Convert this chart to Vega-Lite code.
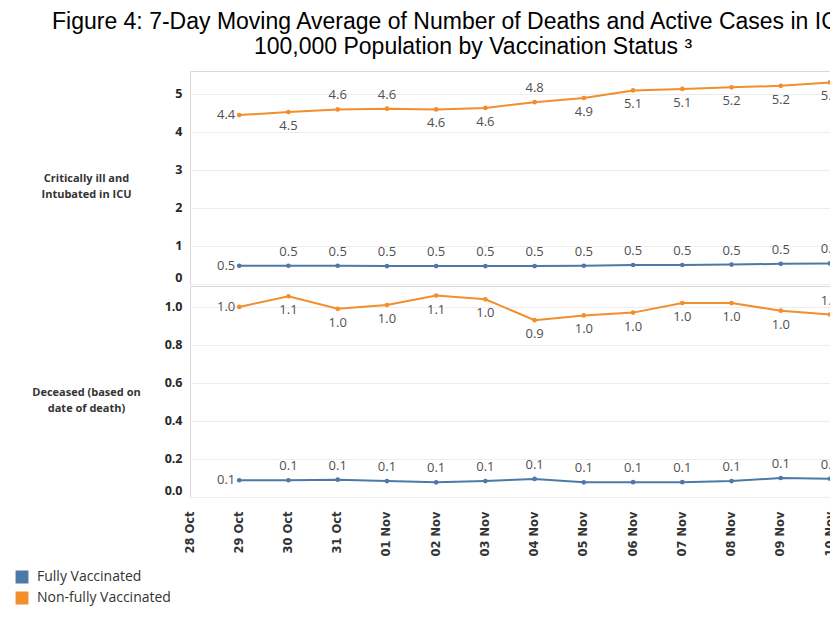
{
  "$schema": "https://vega.github.io/schema/vega-lite/v6.json",
  "background": "white",
  "padding": {"left": 15, "top": 10, "right": 0, "bottom": 0},
  "title": {
    "text": ["Figure 4: 7-Day Moving Average of Number of Deaths and Active Cases in ICU per", "100,000 Population by Vaccination Status ³"],
    "anchor": "start",
    "frame": "bounds",
    "align": "center",
    "dx": 458,
    "font": "Liberation Sans",
    "fontSize": 23,
    "fontWeight": "normal",
    "color": "#000000",
    "lineHeight": 25,
    "offset": 12
  },
  "data": {
    "values": [
      {"date": "29 Oct", "status": "Non-fully Vaccinated", "measure": "icu", "value": 4.44},
      {"date": "30 Oct", "status": "Non-fully Vaccinated", "measure": "icu", "value": 4.52},
      {"date": "31 Oct", "status": "Non-fully Vaccinated", "measure": "icu", "value": 4.59},
      {"date": "01 Nov", "status": "Non-fully Vaccinated", "measure": "icu", "value": 4.61},
      {"date": "02 Nov", "status": "Non-fully Vaccinated", "measure": "icu", "value": 4.59},
      {"date": "03 Nov", "status": "Non-fully Vaccinated", "measure": "icu", "value": 4.63},
      {"date": "04 Nov", "status": "Non-fully Vaccinated", "measure": "icu", "value": 4.78},
      {"date": "05 Nov", "status": "Non-fully Vaccinated", "measure": "icu", "value": 4.89},
      {"date": "06 Nov", "status": "Non-fully Vaccinated", "measure": "icu", "value": 5.09},
      {"date": "07 Nov", "status": "Non-fully Vaccinated", "measure": "icu", "value": 5.13},
      {"date": "08 Nov", "status": "Non-fully Vaccinated", "measure": "icu", "value": 5.17},
      {"date": "09 Nov", "status": "Non-fully Vaccinated", "measure": "icu", "value": 5.21},
      {"date": "10 Nov", "status": "Non-fully Vaccinated", "measure": "icu", "value": 5.30},
      {"date": "29 Oct", "status": "Fully Vaccinated", "measure": "icu", "value": 0.48},
      {"date": "30 Oct", "status": "Fully Vaccinated", "measure": "icu", "value": 0.48},
      {"date": "31 Oct", "status": "Fully Vaccinated", "measure": "icu", "value": 0.48},
      {"date": "01 Nov", "status": "Fully Vaccinated", "measure": "icu", "value": 0.47},
      {"date": "02 Nov", "status": "Fully Vaccinated", "measure": "icu", "value": 0.47},
      {"date": "03 Nov", "status": "Fully Vaccinated", "measure": "icu", "value": 0.47},
      {"date": "04 Nov", "status": "Fully Vaccinated", "measure": "icu", "value": 0.47},
      {"date": "05 Nov", "status": "Fully Vaccinated", "measure": "icu", "value": 0.48},
      {"date": "06 Nov", "status": "Fully Vaccinated", "measure": "icu", "value": 0.50},
      {"date": "07 Nov", "status": "Fully Vaccinated", "measure": "icu", "value": 0.50},
      {"date": "08 Nov", "status": "Fully Vaccinated", "measure": "icu", "value": 0.51},
      {"date": "09 Nov", "status": "Fully Vaccinated", "measure": "icu", "value": 0.53},
      {"date": "10 Nov", "status": "Fully Vaccinated", "measure": "icu", "value": 0.54},
      {"date": "29 Oct", "status": "Non-fully Vaccinated", "measure": "deceased", "value": 1.00},
      {"date": "30 Oct", "status": "Non-fully Vaccinated", "measure": "deceased", "value": 1.056},
      {"date": "31 Oct", "status": "Non-fully Vaccinated", "measure": "deceased", "value": 0.99},
      {"date": "01 Nov", "status": "Non-fully Vaccinated", "measure": "deceased", "value": 1.01},
      {"date": "02 Nov", "status": "Non-fully Vaccinated", "measure": "deceased", "value": 1.06},
      {"date": "03 Nov", "status": "Non-fully Vaccinated", "measure": "deceased", "value": 1.04},
      {"date": "04 Nov", "status": "Non-fully Vaccinated", "measure": "deceased", "value": 0.93},
      {"date": "05 Nov", "status": "Non-fully Vaccinated", "measure": "deceased", "value": 0.955},
      {"date": "06 Nov", "status": "Non-fully Vaccinated", "measure": "deceased", "value": 0.97},
      {"date": "07 Nov", "status": "Non-fully Vaccinated", "measure": "deceased", "value": 1.02},
      {"date": "08 Nov", "status": "Non-fully Vaccinated", "measure": "deceased", "value": 1.02},
      {"date": "09 Nov", "status": "Non-fully Vaccinated", "measure": "deceased", "value": 0.98},
      {"date": "10 Nov", "status": "Non-fully Vaccinated", "measure": "deceased", "value": 0.96},
      {"date": "29 Oct", "status": "Fully Vaccinated", "measure": "deceased", "value": 0.088},
      {"date": "30 Oct", "status": "Fully Vaccinated", "measure": "deceased", "value": 0.088},
      {"date": "31 Oct", "status": "Fully Vaccinated", "measure": "deceased", "value": 0.091},
      {"date": "01 Nov", "status": "Fully Vaccinated", "measure": "deceased", "value": 0.084},
      {"date": "02 Nov", "status": "Fully Vaccinated", "measure": "deceased", "value": 0.077},
      {"date": "03 Nov", "status": "Fully Vaccinated", "measure": "deceased", "value": 0.084},
      {"date": "04 Nov", "status": "Fully Vaccinated", "measure": "deceased", "value": 0.095},
      {"date": "05 Nov", "status": "Fully Vaccinated", "measure": "deceased", "value": 0.077},
      {"date": "06 Nov", "status": "Fully Vaccinated", "measure": "deceased", "value": 0.078},
      {"date": "07 Nov", "status": "Fully Vaccinated", "measure": "deceased", "value": 0.078},
      {"date": "08 Nov", "status": "Fully Vaccinated", "measure": "deceased", "value": 0.084},
      {"date": "09 Nov", "status": "Fully Vaccinated", "measure": "deceased", "value": 0.100},
      {"date": "10 Nov", "status": "Fully Vaccinated", "measure": "deceased", "value": 0.096}
    ]
  },
  "spacing": 0,
  "resolve": {"scale": {"y": "independent", "color": "shared"}},
  "vconcat": [
    {
      "width": 700,
      "height": 213,
      "transform": [{"filter": "datum.measure == 'icu'"}],
      "encoding": {
        "x": {
          "field": "date", "type": "ordinal",
          "scale": {"type": "point", "domain": ["28 Oct","29 Oct","30 Oct","31 Oct","01 Nov","02 Nov","03 Nov","04 Nov","05 Nov","06 Nov","07 Nov","08 Nov","09 Nov","10 Nov"], "range": [0, 640], "padding": 0},
          "axis": null
        },
        "y": {
          "field": "value", "type": "quantitative",
          "scale": {"domain": [0, 5.6], "nice": false},
          "axis": {"values": [0, 1, 2, 3, 4, 5], "title": ["Critically ill and", "Intubated in ICU"], "titleX": -104, "titleY": 107}
        },
        "color": {
          "field": "status", "type": "nominal",
          "scale": {"domain": ["Fully Vaccinated", "Non-fully Vaccinated"], "range": ["#4e79a7", "#f28e2b"]},
          "legend": {"title": null, "encode": {"symbols": {"update": {"fill": {"scale": "color", "field": "value"}, "stroke": {"value": "transparent"}, "shape": {"value": "square"}, "size": {"value": 130}, "opacity": {"value": 1}}}}}
        }
      },
      "layer": [
        {"mark": {"type": "line", "strokeWidth": 2, "point": {"filled": true, "size": 22}}},
        {
          "transform": [{"filter": "datum.date == '29 Oct'"}],
          "mark": {"type": "text", "align": "right", "baseline": "middle", "dx": -4, "font": "Open Sans", "fontSize": 13},
          "encoding": {"text": {"field": "value", "type": "quantitative", "format": ".1f"}, "color": {"value": "#505050"}}
        },
        {
          "transform": [{"filter": "datum.date != '29 Oct' && (datum.status == 'Fully Vaccinated' || indexof(['31 Oct','01 Nov','04 Nov'], datum.date) >= 0)"}],
          "mark": {"type": "text", "align": "center", "baseline": "middle", "dy": -14, "font": "Open Sans", "fontSize": 13},
          "encoding": {"text": {"field": "value", "type": "quantitative", "format": ".1f"}, "color": {"value": "#505050"}}
        },
        {
          "transform": [{"filter": "datum.date != '29 Oct' && datum.status != 'Fully Vaccinated' && indexof(['31 Oct','01 Nov','04 Nov'], datum.date) < 0"}],
          "mark": {"type": "text", "align": "center", "baseline": "middle", "dy": 14, "font": "Open Sans", "fontSize": 13},
          "encoding": {"text": {"field": "value", "type": "quantitative", "format": ".1f"}, "color": {"value": "#505050"}}
        }
      ]
    },
    {
      "width": 700,
      "height": 211,
      "transform": [{"filter": "datum.measure == 'deceased'"}],
      "encoding": {
        "x": {
          "field": "date", "type": "ordinal",
          "scale": {"type": "point", "domain": ["28 Oct","29 Oct","30 Oct","31 Oct","01 Nov","02 Nov","03 Nov","04 Nov","05 Nov","06 Nov","07 Nov","08 Nov","09 Nov","10 Nov"], "range": [0, 640], "padding": 0},
          "axis": {"title": null, "labelAngle": 270, "ticks": false, "tickSize": 0, "domain": false, "grid": false, "labelPadding": 14, "labelFont": "DejaVu Sans", "labelFontWeight": "bold", "labelFontSize": 11.5, "labelColor": "#333333"}
        },
        "y": {
          "field": "value", "type": "quantitative",
          "scale": {"domain": [0, 1.11], "nice": false},
          "axis": {"values": [0, 0.2, 0.4, 0.6, 0.8, 1.0], "format": ".1f", "title": ["Deceased (based on", "date of death)"], "titleX": -104, "titleY": 106}
        },
        "color": {
          "field": "status", "type": "nominal",
          "scale": {"domain": ["Fully Vaccinated", "Non-fully Vaccinated"], "range": ["#4e79a7", "#f28e2b"]},
          "legend": {"title": null, "encode": {"symbols": {"update": {"fill": {"scale": "color", "field": "value"}, "stroke": {"value": "transparent"}, "shape": {"value": "square"}, "size": {"value": 130}, "opacity": {"value": 1}}}}}
        }
      },
      "layer": [
        {"mark": {"type": "line", "strokeWidth": 2, "point": {"filled": true, "size": 22}}},
        {
          "transform": [{"filter": "datum.date == '29 Oct'"}],
          "mark": {"type": "text", "align": "right", "baseline": "middle", "dx": -4, "font": "Open Sans", "fontSize": 13},
          "encoding": {"text": {"field": "value", "type": "quantitative", "format": ".1f"}, "color": {"value": "#505050"}}
        },
        {
          "transform": [{"filter": "datum.date != '29 Oct' && (datum.status == 'Fully Vaccinated' || datum.date == '10 Nov')"}],
          "mark": {"type": "text", "align": "center", "baseline": "middle", "dy": -14, "font": "Open Sans", "fontSize": 13},
          "encoding": {"text": {"field": "value", "type": "quantitative", "format": ".1f"}, "color": {"value": "#505050"}}
        },
        {
          "transform": [{"filter": "datum.date != '29 Oct' && datum.status != 'Fully Vaccinated' && datum.date != '10 Nov'"}],
          "mark": {"type": "text", "align": "center", "baseline": "middle", "dy": 14, "font": "Open Sans", "fontSize": 13},
          "encoding": {"text": {"field": "value", "type": "quantitative", "format": ".1f"}, "color": {"value": "#505050"}}
        }
      ]
    }
  ],
  "config": {
    "view": {"stroke": "#d9d9d9", "strokeWidth": 1},
    "axisY": {
      "domain": false,
      "ticks": false,
      "labelPadding": 8,
      "labelFlush": true,
      "labelFont": "Open Sans",
      "labelFontWeight": "bold",
      "labelFontSize": 12.5,
      "labelColor": "#262626",
      "grid": true,
      "gridColor": "#ededed",
      "titleFont": "Open Sans",
      "titleFontWeight": "bold",
      "titleFontSize": 11,
      "titleColor": "#333333",
      "titleAngle": 0,
      "titleAlign": "center",
      "titleBaseline": "middle",
      "titleLineHeight": 16
    },
    "legend": {
      "orient": "none",
      "legendX": -175,
      "legendY": 499,
      "padding": 0,
      "rowPadding": 3,
      "labelFont": "Open Sans",
      "labelFontSize": 14,
      "labelColor": "#333333",
      "labelOffset": 8,
      "symbolType": "square",
      "symbolSize": 130
    }
  }
}
